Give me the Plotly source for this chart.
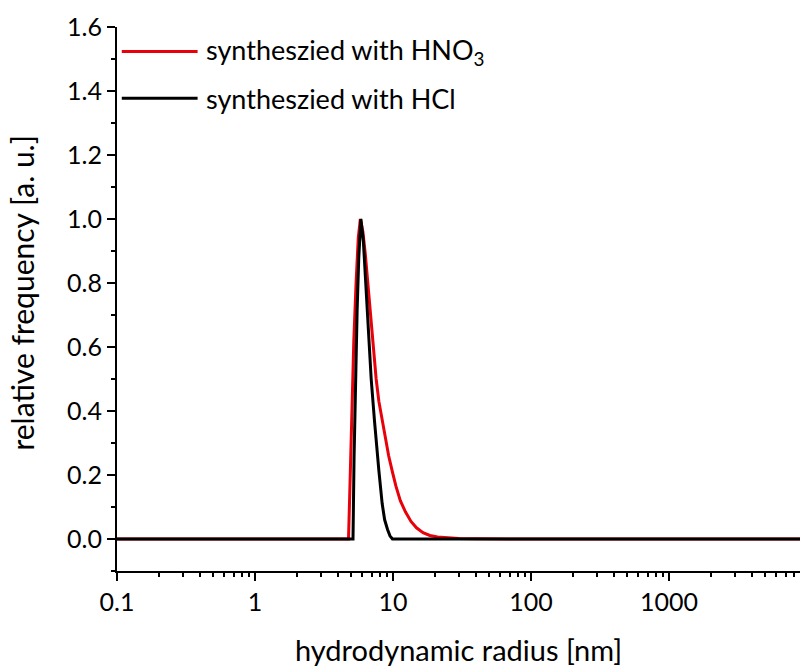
import plotly.graph_objects as go
import math

# ---- data ----
x_hno3 = [0.1, 1, 4.6, 4.76, 4.9, 5.05, 5.2, 5.4, 5.6, 5.8, 6.05, 6.3, 6.65, 7.0, 7.3, 7.55,
          7.9, 8.35, 8.8, 9.3, 9.9, 10.5, 11.3, 12.3, 13.5, 14.8, 16.5, 18.5, 21, 25, 30, 40,
          55, 100, 1000, 10000]
y_hno3 = [0, 0, 0, 0, 0.2, 0.45, 0.62, 0.8, 0.94, 1.0, 0.96, 0.89, 0.77, 0.66, 0.57, 0.5,
          0.43, 0.37, 0.31, 0.26, 0.21, 0.165, 0.12, 0.085, 0.055, 0.035, 0.02, 0.011, 0.006,
          0.003, 0.0015, 0.0005, 0, 0, 0, 0]

x_hcl = [0.1, 1, 5.0, 5.13, 5.22, 5.35, 5.5, 5.65, 5.85, 6.1, 6.4, 6.7, 6.95, 7.34, 7.6,
         7.89, 8.35, 8.7, 9.13, 9.5, 9.9, 12, 100, 1000, 10000]
y_hcl = [0, 0, 0, 0, 0.25, 0.5, 0.72, 0.88, 1.0, 0.93, 0.77, 0.62, 0.5, 0.37, 0.29,
         0.216, 0.11, 0.06, 0.03, 0.01, 0, 0, 0, 0, 0]

x_tickvals = [0.1, 1, 10, 100, 1000]
x_ticktext = ["0.1", "1", "10", "100", "1000"]
x_minor = [m * 10 ** e for e in range(-1, 4) for m in range(2, 10)]

labels = ["syntheszied with HNO<sub>3</sub>", "syntheszied with HCl"]
colors = ["#e8000b", "#000000"]
x_title = "hydrodynamic radius [nm]"
y_title = "relative frequency [a. u.]"

FONT = "Lato"

fig = go.Figure()
fig.add_trace(go.Scatter(x=x_hno3, y=y_hno3, mode="lines", line=dict(color=colors[0], width=3),
                         name=labels[0], showlegend=False))
fig.add_trace(go.Scatter(x=x_hcl, y=y_hcl, mode="lines", line=dict(color=colors[1], width=3),
                         name=labels[1], showlegend=False))

# manual legend (lines + text)
leg_y = [0.955, 0.869]
for lab, col, yy in zip(labels, colors, leg_y):
    fig.add_shape(type="line", xref="paper", yref="paper", x0=0.007, x1=0.118, y0=yy, y1=yy,
                  line=dict(color=col, width=3))
    fig.add_annotation(xref="paper", yref="paper", x=0.128, y=yy, text=lab, showarrow=False,
                       xanchor="left", yanchor="middle",
                       font=dict(family=FONT, size=27, color="black"))

# y-axis title as rotated annotation
fig.add_annotation(xref="paper", yref="paper", x=(22 - 117) / 683, y=0.51, text=y_title,
                   textangle=-90, showarrow=False, xanchor="center", yanchor="middle",
                   font=dict(family=FONT, size=30, color="black"))

fig.update_layout(
    width=800, height=667,
    margin=dict(l=117, r=0, t=27, b=96),
    paper_bgcolor="white", plot_bgcolor="white",
    font=dict(family=FONT, size=25, color="black"),
)

fig.update_xaxes(
    type="log", range=[-1, -1 + 683 / 138],
    tickvals=x_tickvals, ticktext=x_ticktext,
    ticks="outside", ticklen=8, tickwidth=2, tickcolor="black",
    minor=dict(tickvals=x_minor, ticks="outside", ticklen=4, tickwidth=1.5, tickcolor="black"),
    showline=True, linecolor="black", linewidth=2, mirror=False,
    showgrid=False, zeroline=False,
    tickfont=dict(family=FONT, size=25),
    title=dict(text=x_title, font=dict(family=FONT, size=29), standoff=29),
)
fig.update_yaxes(
    range=[-0.1, 1.6], dtick=0.2, tick0=0, tickformat=".1f",
    ticks="outside", ticklen=8, tickwidth=2, tickcolor="black",
    minor=dict(dtick=0.1, tick0=0, ticks="outside", ticklen=4, tickwidth=1.5, tickcolor="black"),
    showline=True, linecolor="black", linewidth=2, mirror=False,
    showgrid=False, zeroline=False,
    tickfont=dict(family=FONT, size=25),
)

fig.write_html("out.html")
